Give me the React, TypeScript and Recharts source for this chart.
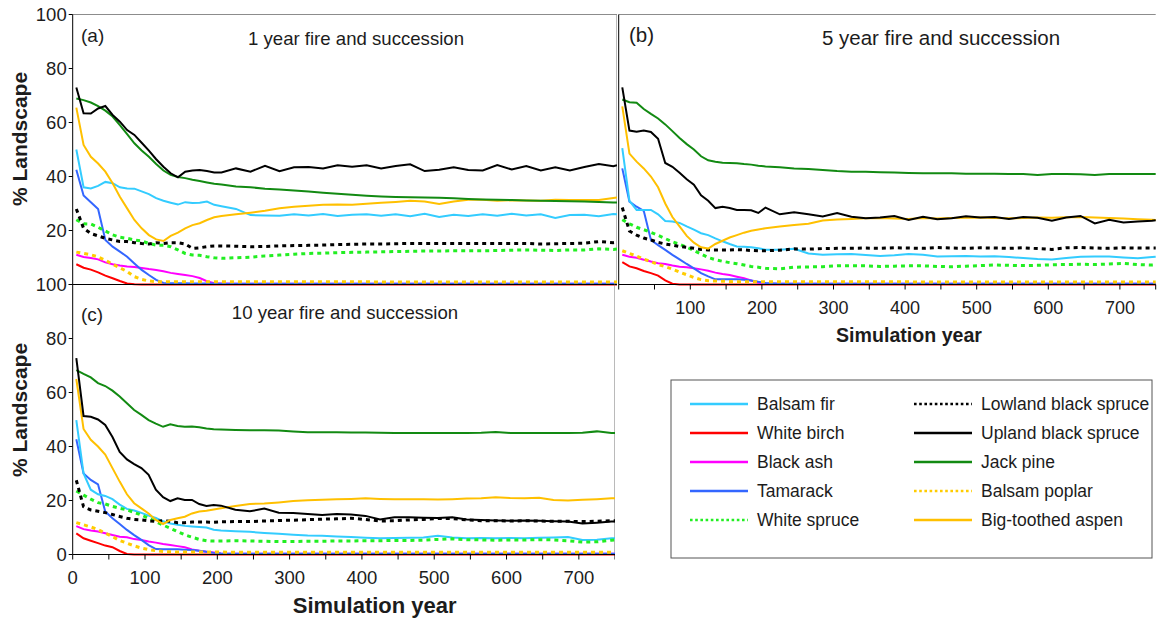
import React from "react";
import { LineChart, Line, XAxis, YAxis, ReferenceLine } from "recharts";

const FONT = '"Liberation Sans", Arial, Helvetica, sans-serif';
const INK = "#1c1c1c";
const BORDER = "#8c8c8c";

// simulation years (10-yr steps early, 20-yr steps later)
const YEARS = [
  5, 15, 25, 35, 45, 55, 65, 75, 85, 95, 105, 115, 125, 135, 145, 155, 165, 175, 185, 195, 205,
  225, 245, 265, 285, 305, 325, 345, 365, 385, 405, 425, 445, 465, 485, 505, 525, 545, 565, 585, 605, 625, 645, 665, 685, 705, 725, 745, 750,
];

const X_TICKS = [0, 50, 100, 150, 200, 250, 300, 350, 400, 450, 500, 550, 600, 650, 700, 750];
const Y_TICKS = [0, 20, 40, 60, 80, 100];

// (a) 1 year fire and succession
const A_BALSAM_FIR = [
  50, 36, 35.6, 36.5, 38, 37.5, 36, 35.6, 35.5, 34.5, 33.5, 32, 31, 30.3, 29.6, 30.5, 30.2, 30.3, 30.7, 29.5, 29,
  28, 25.7, 25.6, 25.5, 26, 25.6, 26.1, 25.4, 25.8, 26, 25.5, 26, 25.3, 26.2, 25, 25.8, 25.4, 26, 25.5, 26.2, 25.6, 26, 24.6, 25.7, 25.8, 25.3, 26.1, 26,
];
const A_WHITE_BIRCH = [
  7.5, 6.2, 5.5, 4.5, 3.3, 2.3, 1.3, 0.4, 0.1, 0, 0, 0, 0, 0, 0, 0, 0, 0, 0, 0, 0,
  0, 0, 0, 0, 0, 0, 0, 0, 0, 0, 0, 0, 0, 0, 0, 0, 0, 0, 0, 0, 0, 0, 0, 0, 0, 0, 0, 0,
];
const A_BLACK_ASH = [
  11, 10.2, 9.8, 9.3, 8.2, 7.5, 7, 6.7, 6.5, 6.1, 5.7, 5.4, 4.9, 4.3, 3.9, 3.5, 3.1, 2.4, 1.2, 0.5, 0.4,
  0.3, 0.3, 0.3, 0.3, 0.3, 0.3, 0.3, 0.3, 0.3, 0.3, 0.3, 0.3, 0.3, 0.3, 0.3, 0.3, 0.3, 0.3, 0.3, 0.3, 0.3, 0.3, 0.3, 0.3, 0.3, 0.3, 0.3, 0.3,
];
const A_TAMARACK = [
  42.5, 33, 30.5, 28, 16.5, 14, 12.2, 10.3, 7.8, 5.4, 3.5, 1.7, 0.6, 0.5, 0.5, 0.5, 0.4, 0.4, 0.4, 0.4, 0.3,
  0.3, 0.3, 0.3, 0.3, 0.3, 0.3, 0.3, 0.3, 0.3, 0.3, 0.3, 0.3, 0.3, 0.3, 0.3, 0.3, 0.3, 0.3, 0.3, 0.3, 0.3, 0.3, 0.3, 0.3, 0.3, 0.3, 0.3, 0.3,
];
const A_WHITE_SPRUCE = [
  24, 22.5, 22.4, 21.2, 19.8, 18.4, 17.5, 17.1, 16.5, 16.1, 15.2, 14.6, 14.5, 14, 12.8, 11.5, 10.9, 10.8, 10.3, 9.9, 9.7,
  9.9, 10.1, 10.6, 10.9, 11.2, 11.5, 11.6, 11.8, 11.9, 12, 12.1, 12.2, 12.3, 12.4, 12.4, 12.5, 12.5, 12.5, 12.6, 12.7, 12.8, 12.7, 12.6, 12.8, 12.8, 13.2, 13, 13.2,
];
const A_LOWLAND = [
  28, 20.8, 18.9, 18, 17.1, 16.5, 15.9, 15.9, 15.5, 15.2, 15, 15.5, 15.2, 15.5, 15.5, 15, 13.4, 13.6, 14, 14.3, 14.3,
  14.2, 14, 14.1, 14.3, 14.4, 14.5, 14.6, 14.8, 14.9, 15, 15, 15.1, 15.2, 15.2, 15.2, 15.2, 15.2, 15.2, 15.2, 15.2, 15.2, 15, 15.1, 15.2, 15.3, 15.9, 15.5, 15.6,
];
const A_UPLAND = [
  73, 63.4, 63.3, 65.2, 66.1, 62.8, 60.3, 57.2, 55.4, 52.5, 49.6, 46.4, 43.6, 41.2, 39.7, 41.8, 42.2, 42.4, 42, 41.5, 41.5,
  43, 41.8, 44, 42, 43.4, 43.5, 43, 44.2, 43.6, 44.2, 43, 43.9, 44.5, 42, 42.5, 43.4, 42.4, 42.2, 44.2, 42.6, 43.9, 42.2, 43.4, 42.2, 43.5, 44.6, 43.8, 44.2,
];
const A_JACK_PINE = [
  68.9, 68.3, 67.4, 66.1, 64.4, 62.2, 59, 55.7, 52.3, 49.6, 47.3, 44.6, 42.2, 40.6, 39.8, 39.4, 38.8, 38.3, 37.8, 37.3, 37,
  36.3, 36, 35.5, 35.2, 34.8, 34.4, 34, 33.6, 33.2, 32.9, 32.6, 32.4, 32.3, 32.2, 32.1, 31.9, 31.7, 31.5, 31.4, 31.3, 31.1, 31, 30.9, 30.8, 30.7, 30.6, 30.4, 30.4,
];
const A_BALSAM_POPLAR = [
  12, 11.5, 11, 10.2, 9, 7.5, 6.2, 4.8, 2.9, 1.9, 1.3, 1, 1, 1, 1, 1, 1, 1, 1, 1, 1,
  1, 1, 1, 1, 1, 1, 1, 1, 1, 1, 0.9, 0.9, 0.9, 0.9, 0.9, 0.9, 0.9, 0.9, 0.9, 0.9, 0.9, 0.9, 0.9, 0.9, 0.9, 0.9, 0.9, 0.9,
];
const A_ASPEN = [
  65.5, 51.7, 47.3, 44.8, 41.8, 37.5, 32.5, 28.2, 23.9, 20.8, 18.3, 16.7, 16.1, 18, 19.2, 20.8, 22, 22.7, 23.9, 24.9, 25.4,
  26, 26.6, 27.3, 28.2, 28.8, 29.2, 29.5, 29.6, 29.5, 29.9, 30.3, 30.6, 31, 30.7, 29.8, 30.7, 31.4, 31.4, 31, 31.2, 31.1, 31, 31.4, 31.3, 31.3, 31.3, 32, 32.2,
];

// (b) 5 year fire and succession
const B_BALSAM_FIR = [
  50.5, 31, 27.6, 27.6, 27.6, 26, 23.5, 23.3, 22.8, 21.5, 20.3, 19, 18.3, 17.1, 16, 15, 14.1, 14, 13.8, 13.4, 12.9,
  12.9, 13.2, 11.5, 11, 11.2, 11.3, 10.9, 10.6, 10.8, 11.3, 11, 10.4, 10.5, 10.6, 10.4, 10.5, 10.2, 9.8, 9.4, 9.3, 9.8, 10.3, 10.4, 10.4, 10, 9.7, 10.2, 10.3,
];
const B_WHITE_BIRCH = [
  8.3, 6.7, 6, 5, 4.2, 3.3, 1.5, 0.3, 0, 0, 0, 0, 0, 0, 0, 0, 0, 0, 0, 0, 0,
  0, 0, 0, 0, 0, 0, 0, 0, 0, 0, 0, 0, 0, 0, 0, 0, 0, 0, 0, 0, 0, 0, 0, 0, 0, 0, 0, 0,
];
const B_BLACK_ASH = [
  11, 10.3, 9.9, 9.2, 8.5, 7.9, 7.6, 7, 6.6, 6.4, 6, 5.6, 5.1, 4.4, 3.9, 3.5, 2.9, 2.3, 1.5, 0.6, 0.4,
  0.3, 0.3, 0.3, 0.3, 0.3, 0.3, 0.3, 0.3, 0.3, 0.3, 0.3, 0.3, 0.3, 0.3, 0.3, 0.3, 0.3, 0.3, 0.3, 0.3, 0.3, 0.3, 0.3, 0.3, 0.3, 0.3, 0.3, 0.3,
];
const B_TAMARACK = [
  43, 30.7, 28.8, 27.3, 16.5, 14.6, 12.8, 11, 9.3, 7.6, 6, 4.2, 3, 1.9, 1.9, 1.9, 1.9, 1.8, 1.5, 1, 0.6,
  0.3, 0.3, 0.3, 0.3, 0.3, 0.3, 0.3, 0.3, 0.3, 0.3, 0.3, 0.3, 0.3, 0.3, 0.3, 0.3, 0.3, 0.3, 0.3, 0.3, 0.3, 0.3, 0.3, 0.3, 0.3, 0.3, 0.3, 0.3,
];
const B_WHITE_SPRUCE = [
  24, 22.5, 21.2, 20.3, 19.3, 18.2, 17, 15.8, 14.9, 13.8, 12.6, 11.3, 10, 9.2, 8.6, 8.1, 7.7, 7.2, 6.7, 6.4, 6,
  5.8, 6.4, 6.5, 6.6, 6.9, 6.9, 6.9, 6.7, 6.8, 6.9, 6.9, 6.7, 6.6, 6.8, 7, 7.2, 7.1, 7, 7.1, 7.3, 7.4, 7.5, 7.4, 7.6, 7.8, 7.4, 7.2, 7.3,
];
const B_LOWLAND = [
  28.5, 19.8, 18.3, 17.2, 16.5, 15.6, 15, 14.6, 14.1, 13.8, 13.4, 13, 12.8, 12.8, 12.8, 12.8, 12.9, 12.8, 12.6, 12.5, 12.5,
  12.7, 13.2, 13.1, 13.3, 13.4, 13.4, 13.5, 13.4, 13.6, 13.5, 13.4, 13.7, 13.5, 13.4, 13.6, 13.5, 13.4, 13.6, 13.3, 13, 13.6, 13.7, 13.5, 13.4, 13.6, 13.5, 13.5, 13.5,
];
const B_UPLAND = [
  73, 57, 56.6, 57, 56.5, 54, 45, 43.6, 41.4, 39, 37, 33, 31, 28.3, 28.8, 28.3, 27.6, 27.6, 27.5, 26.5, 28.5,
  26, 26.8, 26, 25.2, 26.5, 25.1, 24.5, 24.8, 25.4, 23.9, 25.1, 24.2, 24.5, 25.3, 24.8, 25, 24.3, 25, 24.7, 23.6, 24.8, 25.4, 22.6, 24, 23, 23.3, 23.6, 23.8,
];
const B_JACK_PINE = [
  68.5, 67.5, 67.3, 65, 63.2, 61.5, 59.3, 56.8, 54.3, 52, 50, 47.5, 46, 45.5, 45.1, 45, 44.9, 44.6, 44.4, 44, 43.7,
  43.4, 43, 42.8, 42.4, 42, 41.8, 41.8, 41.6, 41.5, 41.3, 41.2, 41.2, 41.2, 41, 41, 41, 40.9, 40.9, 40.6, 40.9, 40.9, 40.8, 40.6, 40.9, 40.9, 40.9, 40.9, 40.9,
];
const B_BALSAM_POPLAR = [
  12.5, 11.5, 10.5, 9.4, 8.5, 7.4, 6.6, 5.7, 4.6, 3.6, 2.6, 1.8, 1.4, 1.3, 1.2, 1.1, 1, 1, 1, 1, 1,
  1, 1, 1, 1, 1, 1, 1, 1, 1, 1, 0.9, 0.9, 0.9, 0.9, 0.9, 0.9, 0.9, 0.9, 0.9, 0.9, 0.9, 0.9, 0.9, 0.9, 0.9, 0.9, 0.9, 0.9,
];
const B_ASPEN = [
  66, 48.5, 45.5, 43, 40, 36, 30, 25, 21.5, 18, 15.5, 13.8, 13.3, 15, 16.2, 17.4, 18.3, 19.2, 19.9, 20.4, 20.8,
  21.5, 22, 22.5, 23.7, 24.1, 24.3, 24.5, 24.6, 24.4, 24.3, 24.6, 24.4, 24.6, 24.7, 24.8, 24.6, 24.5, 24.6, 24.8, 24.7, 24.9, 25, 24.8, 24.6, 24.4, 24.2, 24, 23.9,
];

// (c) 10 year fire and succession
const C_BALSAM_FIR = [
  49.8, 30, 24, 22.3, 21.7, 20.5, 18.5, 16.9, 16.3, 15.4, 14.4, 13.5, 12.3, 11.5, 11, 10.6, 10.4, 10.2, 10, 9.2, 8.9,
  8.6, 8.4, 8, 7.7, 7.3, 7, 6.9, 6.7, 6.5, 6.2, 6, 6.1, 6.2, 6.3, 6.9, 6.3, 6, 6.1, 6, 6.1, 6, 6.2, 6.3, 6.5, 5.4, 5.5, 6, 6,
];
const C_WHITE_BIRCH = [
  7.8, 6, 5.1, 4.2, 3.3, 2.7, 1.3, 0.2, 0, 0, 0, 0, 0, 0, 0, 0, 0, 0, 0, 0, 0,
  0, 0, 0, 0, 0, 0, 0, 0, 0, 0, 0, 0, 0, 0, 0, 0, 0, 0, 0, 0, 0, 0, 0, 0, 0, 0, 0, 0,
];
const C_BLACK_ASH = [
  10.5, 9.4, 8.9, 8.5, 7.9, 7.2, 6.6, 6.4, 5.7, 5.4, 4.8, 4.4, 3.9, 3.5, 3.1, 2.7, 1.9, 1.4, 1, 0.7, 0.4,
  0.3, 0.3, 0.3, 0.3, 0.3, 0.3, 0.3, 0.3, 0.3, 0.3, 0.3, 0.3, 0.3, 0.3, 0.3, 0.3, 0.3, 0.3, 0.3, 0.3, 0.3, 0.3, 0.3, 0.3, 0.3, 0.3, 0.3, 0.3,
];
const C_TAMARACK = [
  42.7, 30, 27.6, 26, 15.9, 13.4, 11.3, 9.1, 7.2, 5.4, 3.5, 2, 1.9, 1.9, 1.9, 1.8, 1.7, 1.4, 1, 0.6, 0.4,
  0.3, 0.3, 0.3, 0.3, 0.3, 0.3, 0.3, 0.3, 0.3, 0.3, 0.3, 0.3, 0.3, 0.3, 0.3, 0.3, 0.3, 0.3, 0.3, 0.3, 0.3, 0.3, 0.3, 0.3, 0.3, 0.3, 0.3, 0.3,
];
const C_WHITE_SPRUCE = [
  23.5, 22, 20.5, 19.2, 18.7, 17.8, 17.1, 16.5, 15.6, 14.6, 13.4, 12.2, 10.9, 9.7, 8.5, 7.3, 6.4, 5.6, 5.1, 5, 5,
  5.1, 5, 4.9, 4.8, 4.8, 4.9, 4.9, 5, 5, 5.1, 5.1, 5.2, 5.2, 5.3, 5.6, 5.8, 5.5, 5.4, 5.3, 5.4, 5.4, 5.5, 5.4, 5.1, 4.6, 4.7, 5.3, 5.4,
];
const C_LOWLAND = [
  27.5, 17.7, 16.5, 16, 15.5, 14.8, 14.1, 13.4, 13, 12.8, 12.5, 12.2, 12.5, 12.3, 11.8, 11.8, 12, 12, 12, 11.9, 12.1,
  12.2, 12.2, 12.4, 12.6, 12.7, 12.9, 13.1, 13.2, 13.4, 13, 12.4, 12.5, 12.8, 13, 13.3, 13.3, 12.8, 12.5, 12.5, 12.4, 12.5, 12.4, 12.3, 12.3, 12.2, 12.3, 12.5, 12.5,
];
const C_UPLAND = [
  72.7, 51.3, 51, 50, 48, 43.5, 38, 35.2, 33.5, 32, 29.5, 24, 21.2, 19.8, 20.8, 20.2, 20.2, 18.7, 18, 18.3, 18.1,
  16.6, 16, 17, 15.5, 15.4, 15, 14.6, 15, 14.8, 14.3, 13, 13.8, 13.8, 13.6, 13.5, 13.8, 13, 12.8, 12.6, 12.5, 12.6, 12.5, 12.3, 12.2, 11.5, 11.8, 12.2, 12.2,
];
const C_JACK_PINE = [
  68.3, 66.9, 65.6, 63.5, 62.4, 60.7, 58.5, 56, 53.5, 51.7, 49.8, 48.5, 47.3, 48.2, 47.6, 47.3, 47.4, 47.1, 46.7, 46.4, 46.3,
  46.1, 46, 46, 45.9, 45.6, 45.3, 45.3, 45.3, 45.2, 45.2, 45.1, 45, 45, 45, 45, 45, 45, 45.1, 45.4, 45, 45, 45, 45, 45, 45.1, 45.6, 45, 45,
];
const C_BALSAM_POPLAR = [
  11.8, 11, 10.2, 9.2, 7.9, 6.6, 5.2, 4.2, 3.2, 2.4, 1.8, 1.4, 1.1, 1, 0.9, 0.9, 0.9, 0.9, 0.9, 0.9, 0.9,
  0.8, 0.8, 0.8, 0.8, 0.8, 0.8, 0.8, 0.8, 0.8, 0.8, 0.8, 0.8, 0.8, 0.8, 0.8, 0.8, 0.8, 0.8, 0.8, 0.8, 0.8, 0.8, 0.8, 0.8, 0.8, 0.8, 0.8, 0.8,
];
const C_ASPEN = [
  65, 46.5, 42.5, 40, 37, 32, 27, 22.3, 19, 17.1, 15.2, 12.8, 11.3, 12.8, 13.4, 14, 15.2, 15.9, 16.2, 16.7, 17.1,
  18, 18.7, 18.9, 19.3, 19.8, 20.1, 20.3, 20.5, 20.6, 20.8, 20.6, 20.5, 20.5, 20.5, 20.4, 20.5, 20.7, 20.8, 21.2, 20.9, 20.8, 21, 20.2, 20, 20.3, 20.5, 20.8, 20.8,
];

type Species = { key: string; name: string; color: string; dotted: boolean };

const SPECIES: Species[] = [
  { key: "balsamFir", name: "Balsam fir", color: "#33CCFF", dotted: false },
  { key: "whiteBirch", name: "White birch", color: "#FF0000", dotted: false },
  { key: "blackAsh", name: "Black ash", color: "#FF00FF", dotted: false },
  { key: "tamarack", name: "Tamarack", color: "#3366FF", dotted: false },
  { key: "whiteSpruce", name: "White spruce", color: "#22EE22", dotted: true },
  { key: "lowland", name: "Lowland black spruce", color: "#000000", dotted: true },
  { key: "upland", name: "Upland black spruce", color: "#000000", dotted: false },
  { key: "jackPine", name: "Jack pine", color: "#128A12", dotted: false },
  { key: "balsamPoplar", name: "Balsam poplar", color: "#FFCC00", dotted: true },
  { key: "aspen", name: "Big-toothed aspen", color: "#FFC000", dotted: false },
];

// order lines are painted in (last on top)
const DRAW_ORDER = [
  "whiteBirch", "blackAsh", "tamarack", "balsamPoplar", "balsamFir",
  "whiteSpruce", "lowland", "aspen", "jackPine", "upland",
];

function toRows(series: Record<string, number[]>) {
  return YEARS.map((year, i) => {
    const row: Record<string, number> = { year };
    SPECIES.forEach((s) => {
      row[s.key] = series[s.key][i];
    });
    return row;
  });
}

const ROWS_A = toRows({
  balsamFir: A_BALSAM_FIR, whiteBirch: A_WHITE_BIRCH, blackAsh: A_BLACK_ASH, tamarack: A_TAMARACK,
  whiteSpruce: A_WHITE_SPRUCE, lowland: A_LOWLAND, upland: A_UPLAND, jackPine: A_JACK_PINE,
  balsamPoplar: A_BALSAM_POPLAR, aspen: A_ASPEN,
});
const ROWS_B = toRows({
  balsamFir: B_BALSAM_FIR, whiteBirch: B_WHITE_BIRCH, blackAsh: B_BLACK_ASH, tamarack: B_TAMARACK,
  whiteSpruce: B_WHITE_SPRUCE, lowland: B_LOWLAND, upland: B_UPLAND, jackPine: B_JACK_PINE,
  balsamPoplar: B_BALSAM_POPLAR, aspen: B_ASPEN,
});
const ROWS_C = toRows({
  balsamFir: C_BALSAM_FIR, whiteBirch: C_WHITE_BIRCH, blackAsh: C_BLACK_ASH, tamarack: C_TAMARACK,
  whiteSpruce: C_WHITE_SPRUCE, lowland: C_LOWLAND, upland: C_UPLAND, jackPine: C_JACK_PINE,
  balsamPoplar: C_BALSAM_POPLAR, aspen: C_ASPEN,
});

const byKey = (k: string) => SPECIES.find((s) => s.key === k) as Species;

function renderLines() {
  return DRAW_ORDER.map((k) => {
    const s = byKey(k);
    return (
      <Line
        key={k}
        dataKey={k}
        name={s.name}
        type="linear"
        stroke={s.color}
        strokeWidth={s.dotted ? 3 : 2}
        strokeDasharray={s.dotted ? "4 4" : undefined}
        dot={false}
        activeDot={false}
        isAnimationActive={false}
      />
    );
  });
}

const xTick = (showZero: boolean, size: number) => (p: any) => {
  const v = p.payload.value;
  if (v % 100 !== 0 || (v === 0 && !showZero)) return <g />;
  return (
    <text x={p.x} y={p.y + 22.4} textAnchor="middle" fontSize={size} fill={INK}>
      {v}
    </text>
  );
};

const yTick = (showZero: boolean, size: number) => (p: any) => {
  const v = p.payload.value;
  if (v === 0 && !showZero) return <g />;
  return (
    <text x={p.x} y={p.y} dy="0.355em" textAnchor="end" fontSize={size} fill={INK}>
      {v}
    </text>
  );
};

const axisStroke = { stroke: "#000", strokeWidth: 1 };

function Legend() {
  const rows = [404, 433, 462, 491, 520];
  const left = SPECIES.slice(0, 5);
  const right = SPECIES.slice(5);
  const entry = (s: Species, x1: number, y: number) => (
    <g key={s.key}>
      <line
        x1={x1}
        x2={x1 + 58}
        y1={y}
        y2={y}
        stroke={s.color}
        strokeWidth={2.6}
        strokeDasharray={s.dotted ? "2.6 2.6" : undefined}
      />
      <text x={x1 + 67} y={y} dy="0.35em" fontSize={17.5} fill={INK}>
        {s.name}
      </text>
    </g>
  );
  return (
    <g>
      <rect x={671} y={380} width={481} height={178} fill="#fff" stroke="#555" strokeWidth={1} />
      {left.map((s, i) => entry(s, 690, rows[i]))}
      {right.map((s, i) => entry(s, 914, rows[i]))}
    </g>
  );
}

export default function App() {
  return (
    <div
      style={{
        position: "absolute",
        left: 0,
        top: 0,
        width: 1157,
        height: 619,
        overflow: "hidden",
        background: "#fff",
        fontFamily: FONT,
      }}
    >
      {/* (a) */}
      <div style={{ position: "absolute", left: 0, top: 0 }}>
        <LineChart width={617} height={314.5} data={ROWS_A} margin={{ top: 14.5, right: 0, bottom: 0, left: 0 }}>
          <XAxis
            type="number"
            dataKey="year"
            domain={[0, 750]}
            ticks={X_TICKS}
            height={30}
            tick={false}
            tickLine={false}
            axisLine={axisStroke}
          />
          <YAxis
            type="number"
            domain={[0, 100]}
            ticks={Y_TICKS}
            interval={0}
            width={72.7}
            tickSize={4}
            tickMargin={2}
            tick={yTick(false, 18.5)}
            tickLine={axisStroke}
            axisLine={axisStroke}
          />
          <ReferenceLine y={100} stroke={BORDER} strokeWidth={1.2} />
          <ReferenceLine x={750} stroke={BORDER} strokeWidth={1.2} />
          {renderLines()}
        </LineChart>
      </div>

      {/* (b) */}
      <div style={{ position: "absolute", left: 600, top: 0 }}>
        <LineChart width={557} height={354.5} data={ROWS_B} margin={{ top: 14.5, right: 1.3, bottom: 0, left: 0 }}>
          <XAxis
            type="number"
            dataKey="year"
            domain={[0, 750]}
            ticks={X_TICKS}
            interval={0}
            height={70}
            tickSize={5}
            tickMargin={2}
            tick={xTick(false, 18)}
            tickLine={axisStroke}
            axisLine={axisStroke}
          />
          <YAxis
            type="number"
            domain={[0, 100]}
            ticks={Y_TICKS}
            width={18.7}
            tick={false}
            tickLine={false}
            axisLine={axisStroke}
          />
          <ReferenceLine y={100} stroke={BORDER} strokeWidth={1.2} />
          {renderLines()}
        </LineChart>
      </div>

      {/* (c) */}
      <div style={{ position: "absolute", left: 0, top: 270 }}>
        <LineChart width={615} height={349} data={ROWS_C} margin={{ top: 14.5, right: 0, bottom: 0, left: 0 }}>
          <XAxis
            type="number"
            dataKey="year"
            domain={[0, 750]}
            ticks={X_TICKS}
            interval={0}
            height={64.5}
            tickSize={5}
            tickMargin={2}
            tick={xTick(true, 18.5)}
            tickLine={axisStroke}
            axisLine={axisStroke}
          />
          <YAxis
            type="number"
            domain={[0, 100]}
            ticks={Y_TICKS}
            interval={0}
            width={72.7}
            tickSize={4}
            tickMargin={2}
            tick={yTick(true, 18.5)}
            tickLine={axisStroke}
            axisLine={axisStroke}
          />
          <ReferenceLine x={750} stroke={BORDER} strokeWidth={1.2} />
          {renderLines()}
        </LineChart>
      </div>

      {/* titles, axis labels and legend */}
      <svg
        width={1157}
        height={619}
        style={{ position: "absolute", left: 0, top: 0, pointerEvents: "none" }}
      >
        <text x={81} y={42} fontSize={19} fill={INK}>(a)</text>
        <text x={356} y={45} fontSize={18.6} textAnchor="middle" fill={INK}>1 year fire and succession</text>
        <text x={629} y={41.5} fontSize={20.5} fill={INK}>(b)</text>
        <text x={941} y={44.5} fontSize={20.5} textAnchor="middle" fill={INK}>5 year fire and succession</text>
        <text x={81} y={321} fontSize={19} fill={INK}>(c)</text>
        <text x={345} y={318.5} fontSize={18.6} textAnchor="middle" fill={INK}>10 year fire and succession</text>

        <text transform="translate(27,139) rotate(-90)" fontSize={21} fontWeight="bold" textAnchor="middle" fill={INK}>
          % Landscape
        </text>
        <text transform="translate(27,410) rotate(-90)" fontSize={21} fontWeight="bold" textAnchor="middle" fill={INK}>
          % Landscape
        </text>
        <text x={909} y={341.5} fontSize={19.6} fontWeight="bold" textAnchor="middle" fill={INK}>
          Simulation year
        </text>
        <text x={374.7} y={612.5} fontSize={22} fontWeight="bold" textAnchor="middle" fill={INK}>
          Simulation year
        </text>

        <Legend />
      </svg>
    </div>
  );
}
